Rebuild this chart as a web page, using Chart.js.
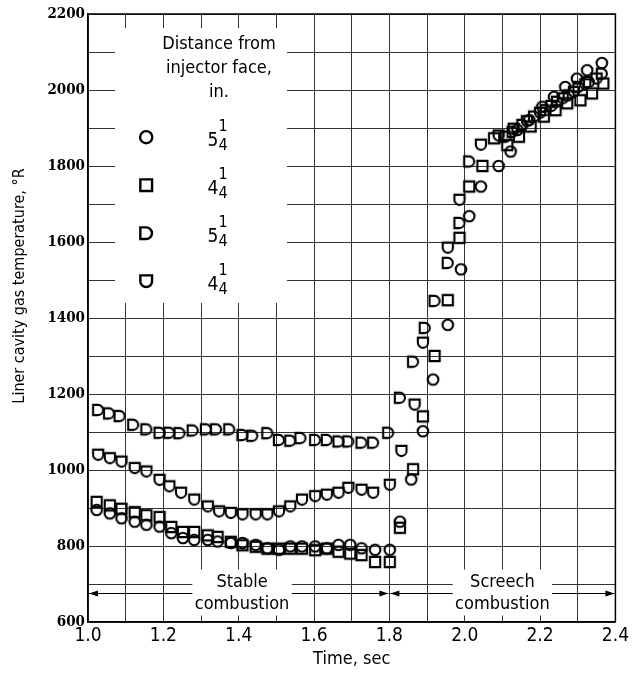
<!DOCTYPE html>
<html>
<head>
<meta charset="utf-8">
<script src="https://cdn.jsdelivr.net/npm/chart.js@4.4.1/dist/chart.umd.min.js"></script>
<style>
  html, body { margin: 0; padding: 0; background: #fff; }
  canvas { display: block; }
</style>
</head>
<body>
<canvas id="c" width="632" height="673"></canvas>
<script>
/* Liner cavity gas temperature vs time, four thermocouples. */

// ---- data
const CIRCLE_T = [1.023, 1.058, 1.089, 1.124, 1.155, 1.19, 1.221, 1.252, 1.282, 1.318, 1.344, 1.379, 1.41, 1.445, 1.476, 1.507, 1.537, 1.568, 1.603, 1.634, 1.665, 1.696, 1.726, 1.762, 1.801,
  1.828, 1.858, 1.889, 1.916, 1.955, 1.99, 2.012, 2.043, 2.09, 2.122, 2.14, 2.171, 2.206, 2.237, 2.267, 2.298, 2.325, 2.364];
const CIRCLE_TEMP = [895, 886, 873, 864, 856, 851, 834, 821, 816, 816, 812, 808, 808, 803, 794, 790, 799, 799, 799, 794, 803, 803, 794, 790, 790,
  864, 975, 1102, 1238, 1382, 1528, 1668, 1746, 1800, 1838, 1895, 1921, 1956, 1982, 2008, 2030, 2052, 2071];

const SQUARE_T = [1.023, 1.058, 1.089, 1.124, 1.155, 1.19, 1.221, 1.252, 1.282, 1.318, 1.344, 1.379, 1.41, 1.445, 1.476, 1.507, 1.537, 1.568, 1.603, 1.634, 1.665, 1.696, 1.726, 1.762, 1.801,
  1.828, 1.863, 1.889, 1.92, 1.955, 1.986, 2.012, 2.047, 2.078, 2.113, 2.144, 2.175, 2.21, 2.241, 2.272, 2.307, 2.338, 2.368];
const SQUARE_TEMP = [916, 907, 898, 889, 881, 876, 850, 837, 837, 828, 824, 811, 802, 798, 793, 793, 793, 793, 789, 793, 785, 780, 776, 758, 758,
  848, 1002, 1141, 1300, 1447, 1611, 1746, 1800, 1873, 1855, 1877, 1904, 1930, 1947, 1965, 1973, 1991, 2017];

const DSHAPE_T = [1.027, 1.056, 1.084, 1.12, 1.155, 1.19, 1.216, 1.243, 1.278, 1.313, 1.34, 1.375, 1.41, 1.436, 1.476, 1.507, 1.537, 1.564, 1.603, 1.634, 1.665, 1.691, 1.726, 1.757, 1.797,
  1.828, 1.863, 1.894, 1.92, 1.955, 1.986, 2.012, 2.109, 2.127, 2.153, 2.184, 2.215, 2.245, 2.276, 2.302, 2.33, 2.364];
const DSHAPE_TEMP = [1158, 1149, 1142, 1119, 1107, 1098, 1098, 1097, 1104, 1107, 1107, 1107, 1092, 1090, 1097, 1079, 1077, 1084, 1079, 1079, 1075, 1075, 1072, 1072, 1098,
  1190, 1285, 1374, 1445, 1545, 1650, 1812, 1877, 1890, 1908, 1930, 1947, 1969, 1986, 2008, 2021, 2043];

const USHAPE_T = [1.027, 1.058, 1.089, 1.124, 1.155, 1.19, 1.216, 1.247, 1.282, 1.318, 1.348, 1.379, 1.41, 1.445, 1.476, 1.507, 1.537, 1.568, 1.603, 1.634, 1.665, 1.691, 1.726, 1.757, 1.801,
  1.832, 1.867, 1.889, 1.955, 1.986, 2.043, 2.09, 2.13, 2.165, 2.2, 2.23, 2.26, 2.29, 2.32, 2.35];
const USHAPE_TEMP = [1040, 1031, 1022, 1005, 996, 974, 957, 940, 922, 904, 891, 887, 883, 883, 883, 891, 904, 922, 931, 935, 940, 953, 948, 940, 961,
  1050, 1172, 1335, 1585, 1711, 1856, 1880, 1898, 1918, 1940, 1958, 1978, 1995, 2015, 2030];

const X_MIN = 1.0, X_MAX = 2.4, X_STEP = 0.1;
const Y_MIN = 600, Y_MAX = 2200, Y_STEP = 100;

const LEGEND_HEAD = ["Distance from", "injector face,", "in."];
const LEGEND_WHOLE = ["5", "4", "5", "4"];
const LEGEND_NUM = "1", LEGEND_DEN = "4";
const REGIMES = [
  { from: 1.0, to: 1.8, lines: ["Stable", "combustion"], gap: [1.277, 1.541] },
  { from: 1.8, to: 2.4, lines: ["Screech", "combustion"], gap: [1.968, 2.232] },
];
const REGIME_ARROW_TEMP = 675;

// ---- look
const SANS = '"DejaVu Sans Condensed", "DejaVu Sans", sans-serif';
const SERIF = '"DejaVu Serif Condensed", "DejaVu Serif", serif';
const GRID = "#333";

function marker(shape, k) {
  const n = Math.round(16 * k), c = document.createElement("canvas");
  c.width = n; c.height = n;
  const g = c.getContext("2d");
  g.scale(k, k);
  g.lineWidth = 2.1; g.strokeStyle = "#000";
  g.beginPath();
  if (shape === "circle") g.arc(8, 8, 5.3, 0, 2 * Math.PI);
  else if (shape === "square") g.rect(2.9, 2.9, 10.2, 10.2);
  else if (shape === "d") {
    g.moveTo(2.9, 2.9); g.lineTo(7.9, 2.9); g.arc(7.9, 8, 5.1, -Math.PI / 2, Math.PI / 2); g.lineTo(2.9, 13.1); g.closePath();
  } else {
    g.moveTo(2.9, 2.9); g.lineTo(13.1, 2.9); g.lineTo(13.1, 8); g.arc(8, 8, 5.1, 0, Math.PI); g.closePath();
  }
  g.stroke();
  return c;
}

const SERIES = [
  { label: "5 1/4 in.", shape: "circle", t: CIRCLE_T, v: CIRCLE_TEMP },
  { label: "4 1/4 in.", shape: "square", t: SQUARE_T, v: SQUARE_TEMP },
  { label: "5 1/4 in.", shape: "d", t: DSHAPE_T, v: DSHAPE_TEMP },
  { label: "4 1/4 in.", shape: "u", t: USHAPE_T, v: USHAPE_TEMP },
];
SERIES.forEach(s => { s.img = marker(s.shape, 1); s.key = marker(s.shape, 1.15); });

function arrowHead(ctx, x, y, dir) {
  ctx.beginPath();
  ctx.moveTo(x, y); ctx.lineTo(x - dir * 9, y - 3); ctx.lineTo(x - dir * 9, y + 3); ctx.closePath();
  ctx.fill();
}

const decor = {
  id: "decor",
  beforeDatasetsDraw(chart) {
    const { ctx, chartArea: a, scales: { x, y } } = chart;
    ctx.save();
    // white panel for the in-plot key
    ctx.fillStyle = "#fff";
    ctx.fillRect(a.left + 27, a.top + 14, 172, 275);
    // frame top/right
    ctx.strokeStyle = "#000"; ctx.lineWidth = 1.5;
    ctx.beginPath();
    ctx.moveTo(a.left, a.top); ctx.lineTo(a.right, a.top); ctx.lineTo(a.right, a.bottom);
    ctx.stroke();

    // key
    ctx.fillStyle = "#000"; ctx.textAlign = "center"; ctx.textBaseline = "middle";
    ctx.font = `18px ${SANS}`;
    LEGEND_HEAD.forEach((s, i) => ctx.fillText(s, a.left + 131, a.top + 30 + i * 24));
    SERIES.forEach((s, i) => {
      const cy = a.top + 123 + i * 48;
      ctx.drawImage(s.key, a.left + 58 - s.key.width / 2, cy - s.key.height / 2);
      ctx.font = `19px ${SANS}`;
      ctx.fillText(LEGEND_WHOLE[i], a.left + 125, cy + 4);
      ctx.font = `16px ${SANS}`;
      ctx.fillText(LEGEND_NUM, a.left + 135, cy - 10);
      ctx.fillText(LEGEND_DEN, a.left + 135, cy + 9);
    });

    // regime arrows and labels
    const ay = y.getPixelForValue(REGIME_ARROW_TEMP);
    ctx.lineWidth = 1.2; ctx.strokeStyle = "#000";
    REGIMES.forEach(r => {
      const x0 = x.getPixelForValue(r.from) + 1, x1 = x.getPixelForValue(r.to) - 1;
      const g0 = x.getPixelForValue(r.gap[0]), g1 = x.getPixelForValue(r.gap[1]);
      ctx.fillStyle = "#fff";
      ctx.fillRect(g0, ay - 24, g1 - g0, 46);
      ctx.beginPath();
      ctx.moveTo(x0, ay); ctx.lineTo(g0, ay);
      ctx.moveTo(g1, ay); ctx.lineTo(x1, ay);
      ctx.stroke();
      ctx.fillStyle = "#000";
      arrowHead(ctx, x0, ay, -1);
      arrowHead(ctx, x1, ay, 1);
      ctx.font = `18px ${SANS}`;
      const cx = (g0 + g1) / 2;
      ctx.fillText(r.lines[0], cx, ay - 11);
      ctx.fillText(r.lines[1], cx, ay + 11);
    });

    // y title
    ctx.save();
    ctx.translate(20, 286);
    ctx.rotate(-Math.PI / 2);
    ctx.font = `16px ${SANS}`;
    ctx.fillText("Liner cavity gas temperature, °R", 0, 0);
    ctx.restore();
    ctx.restore();
  },
};

new Chart(document.getElementById("c"), {
  type: "scatter",
  data: {
    datasets: SERIES.map(s => ({
      label: s.label,
      data: s.t.map((t, i) => ({ x: t, y: s.v[i] })),
      pointStyle: s.img,
      pointRadius: 7,
      showLine: false,
    })),
  },
  options: {
    responsive: false, animation: false, devicePixelRatio: 1,
    layout: { padding: { top: 14, right: 14, left: 0, bottom: 0 } },
    plugins: { legend: { display: false }, tooltip: { enabled: false } },
    scales: {
      x: {
        type: "linear", min: X_MIN, max: X_MAX,
        ticks: {
          stepSize: X_STEP, autoSkip: false, maxRotation: 0, padding: 3, color: "#000",
          font: { family: SANS, size: 19 },
          callback: v => Math.round(v * 10) % 2 === 0 ? v.toFixed(1) : "",
        },
        grid: { color: GRID, lineWidth: 1, drawTicks: false },
        border: { color: "#000", width: 1.5 },
        title: { display: true, text: "Time, sec", color: "#000", font: { family: SANS, size: 18 }, padding: { top: 0, bottom: 3 } },
        afterFit: s => { s.height = 51; },
      },
      y: {
        min: Y_MIN, max: Y_MAX,
        ticks: {
          stepSize: Y_STEP, padding: 3, color: "#000",
          font: { family: SERIF, size: 15, weight: "bold" },
          callback: v => v % 200 === 0 ? String(v) : "",
        },
        grid: { color: GRID, lineWidth: 1, drawTicks: false },
        border: { color: "#000", width: 1.5 },
        afterFit: s => { s.width = 88; },
      },
    },
  },
  plugins: [decor],
});
</script>
</body>
</html>
